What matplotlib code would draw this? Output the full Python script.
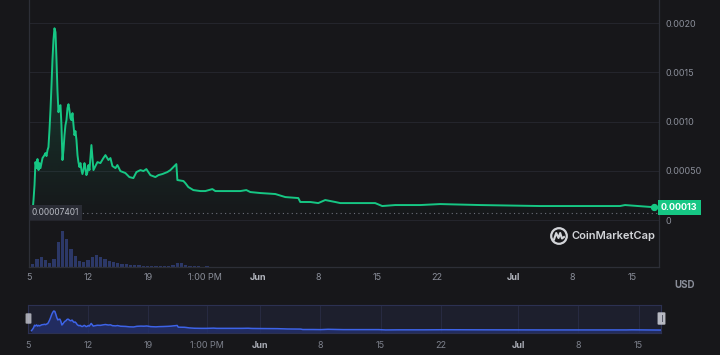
import numpy as np
import matplotlib.pyplot as plt
from matplotlib.patches import Polygon, Circle, Rectangle, FancyBboxPatch
import matplotlib.transforms as mtransforms

plt.rcParams['font.family'] = ['Inter', 'DejaVu Sans']

# x = days since May 5 (00:00)
price_day = [0.41, 0.53, 0.65, 0.76, 0.88, 1.00, 1.12, 1.24, 1.35, 1.59,
             1.82, 1.94, 2.06, 2.18, 2.29, 2.41, 2.53, 2.65, 2.76, 2.88,
             3.00, 3.12, 3.24, 3.35, 3.47, 3.59, 3.71, 3.82, 3.94, 4.06,
             4.18, 4.29, 4.41, 4.53, 4.65, 4.76, 4.88, 5.00, 5.12, 5.24,
             5.35, 5.47, 5.59, 5.71, 5.82, 5.94, 6.06, 6.18, 6.29, 6.41,
             6.53, 6.65, 6.76, 6.88, 7.00, 7.12, 7.35, 7.59, 7.82, 8.06,
             8.41, 8.76, 9.00, 9.35, 9.59, 9.82, 10.18, 10.41, 10.76, 11.35,
             11.82, 12.29, 12.65, 13.12, 13.47, 13.82, 14.29, 14.88, 15.24, 15.71,
             16.29, 16.65, 17.35, 17.47, 18.18, 18.41, 18.76, 19.35, 20.18, 20.76,
             21.59, 21.94, 23.12, 24.88, 25.59, 26.06, 27.24, 29.00, 30.18, 31.71,
             31.94, 33.12, 34.06, 34.88, 36.06, 36.65, 40.76, 41.59, 43.12, 46.06,
             48.41, 53.12, 60.18, 69.59, 70.18, 73.59]
price_usd = [0.000074, 0.000203, 0.000355, 0.000588, 0.000527, 0.000619, 0.000507, 0.000578, 0.000527, 0.000629,
             0.000659, 0.000680, 0.000649, 0.000710, 0.000740, 0.000913, 0.001116, 0.001369, 0.001623, 0.001826,
             0.001947, 0.001907, 0.001623, 0.001318, 0.001095, 0.001156, 0.001166, 0.000963, 0.000609, 0.000710,
             0.000862, 0.000963, 0.001014, 0.001136, 0.001176, 0.001116, 0.001034, 0.001014, 0.001085, 0.000963,
             0.000862, 0.000903, 0.000811, 0.000659, 0.000588, 0.000538, 0.000578, 0.000507, 0.000467, 0.000507,
             0.000578, 0.000527, 0.000456, 0.000487, 0.000558, 0.000507, 0.000761, 0.000507, 0.000548, 0.000588,
             0.000578, 0.000629, 0.000659, 0.000609, 0.000629, 0.000548, 0.000527, 0.000558, 0.000497, 0.000477,
             0.000436, 0.000426, 0.000487, 0.000507, 0.000497, 0.000517, 0.000456, 0.000436, 0.000456, 0.000467,
             0.000487, 0.000507, 0.000568, 0.000406, 0.000396, 0.000375, 0.000335, 0.000304, 0.000294, 0.000294,
             0.000314, 0.000294, 0.000294, 0.000294, 0.000304, 0.000284, 0.000274, 0.000264, 0.000233, 0.000223,
             0.000183, 0.000183, 0.000172, 0.000203, 0.000183, 0.000172, 0.000172, 0.000142, 0.000152, 0.000152,
             0.000162, 0.000152, 0.000142, 0.000142, 0.000152, 0.000130]

# volume (relative units), half-day bars for the first 20 days, daily afterwards
vol_early = [3, 8, 10, 7, 4, 8, 25, 36, 28, 18,
             11, 6, 5, 7, 10, 12, 10, 8, 6, 5,
             4, 3, 3, 2, 2, 2, 1.5, 1.5, 1.5, 1.5,
             1.5, 1.5, 1.5, 2.5, 4, 4, 2.5, 1.5, 1, 1]
vol_late = [0.6, 0.5, 0.5, 0.5, 0.5, 0.4, 0.4, 0.4, 0.4, 0.4,
            0.3, 0.3, 0.3, 0.3, 0.3, 0.3, 0.3, 0.3, 0.3, 0.3,
            0.3, 0.3, 0.3, 0.3, 0.3, 0.3, 0.3, 0.3, 0.3, 0.3,
            0.3, 0.3, 0.3, 0.3, 0.3, 0.3, 0.3, 0.3, 0.3, 0.3,
            0.3, 0.3, 0.3, 0.3, 0.3, 0.3, 0.3, 0.3, 0.3, 0.3,
            0.3, 0.3, 0.3]
vol_day_early = np.arange(0.5, 20.01, 0.5)
vol_day_late = np.arange(21, 74, 1)

tick_days = [0, 7, 14, 20.76, 27, 34, 41, 48, 57, 64, 71]
tick_labels = ['5', '12', '19', '1:00 PM', 'Jun', '8', '15', '22', 'Jul', '8', '15']
ytick_vals = [0, 0.0005, 0.001, 0.0015, 0.002]
ytick_labels = ['0', '0.00050', '0.0010', '0.0015', '0.0020']
first_price = 0.00007401
first_label = '0.00007401'
last_label = '0.00013'

bg = '#17171a'
green = '#16c784'
txt = '#8a8e99'
line_c = '#2d2f37'

fig = plt.figure(figsize=(7.2, 3.55), dpi=100, facecolor=bg)
W, H = 720, 355

# volume bars in their own axes, under the price axes
axv = fig.add_axes([29 / W, 88 / H, 630 / W, 267 / H], facecolor=bg)
axv.set_xlim(0.06, 74.18)
axv.set_ylim(0, 267)
axv.bar(vol_day_early, vol_early, width=0.4, color='#2f3c70', alpha=0.9, lw=0)
axv.bar(vol_day_late, vol_late, width=0.4, color='#2f3c70', alpha=0.9, lw=0)
axv.set_xticks([])
axv.set_yticks([])
for s in axv.spines.values():
    s.set_visible(False)

ax = fig.add_axes([29 / W, 88 / H, 630 / W, 267 / H])
ax.patch.set_visible(False)

for v in ytick_vals:
    ax.axhline(v, color='#24252c', lw=0.8, zorder=0)

# gradient fill under the price line
verts = list(zip(price_day, price_usd)) + [(price_day[-1], 0), (price_day[0], 0)]
poly = Polygon(verts, closed=True, fc='none', ec='none')
ax.add_patch(poly)
grad = np.zeros((256, 1, 4))
grad[:, 0, 0] = 22 / 255
grad[:, 0, 1] = 199 / 255
grad[:, 0, 2] = 132 / 255
grad[:, 0, 3] = np.linspace(0.0, 0.24, 256)
img = ax.imshow(grad, extent=[0, 74, 0, max(price_usd)], origin='lower',
                aspect='auto', zorder=1, interpolation='bilinear')
img.set_clip_path(poly)
ax.set_xlim(0.06, 74.18)
ax.set_ylim(-0.000477, 0.002234)

ax.plot(price_day, price_usd, color=green, lw=1.4, zorder=3, solid_joinstyle='round')
ax.scatter([price_day[-1]], [price_usd[-1]], s=18, color=green, zorder=4)

ax.axhline(first_price, color='#6c6f79', lw=0.8, ls=(0, (1, 3)), zorder=2)

blend = mtransforms.blended_transform_factory(ax.transAxes, ax.transData)
ax.text(0.004, first_price, first_label, transform=blend,
        ha='left', va='center', fontsize=6, color='#b9bcc4', zorder=6,
        bbox=dict(boxstyle='square,pad=0.35', fc='#2a2c35', ec='none'))
ax.text(1.003, price_usd[-1], last_label, transform=blend,
        ha='left', va='center', fontsize=6.5, fontweight='bold', color='white', zorder=6,
        bbox=dict(boxstyle='square,pad=0.35', fc=green, ec='none'), clip_on=False)

ax.yaxis.tick_right()
ax.set_yticks(ytick_vals)
ax.set_yticklabels(ytick_labels)
ax.set_xticks(tick_days)
ax.set_xticklabels(tick_labels)
ax.tick_params(axis='y', length=0, pad=5, labelsize=6.5, labelcolor=txt)
ax.tick_params(axis='x', length=0, pad=4, labelsize=6.5, labelcolor=txt)
for lab in ax.get_xticklabels():
    if lab.get_text() in ('Jun', 'Jul'):
        lab.set_fontweight('bold')
        lab.set_color('#b3b6be')
ax.spines['top'].set_visible(False)
for s in ['left', 'right', 'bottom']:
    ax.spines[s].set_color(line_c)
    ax.spines[s].set_linewidth(0.9)

fig.text(674 / W, 1 - 285 / H, 'USD', fontsize=7, fontweight='bold', color=txt, va='center')

# watermark
fig.text(572 / W, 1 - 236 / H, 'CoinMarketCap', fontsize=8, fontweight='semibold',
         color='#d3d5d9', va='center', ha='left')
lax = fig.add_axes([549 / W, 1 - 246 / H, 20 / W, 20 / H])
lax.set_xlim(-1, 1)
lax.set_ylim(-1, 1)
lax.axis('off')
lax.add_patch(Circle((0, 0), 0.78, fc='none', ec='#d3d5d9', lw=1.6))
lax.plot([-0.5, -0.28, -0.05, 0.12, 0.3, 0.5], [-0.35, 0.3, -0.2, 0.3, -0.25, -0.1],
         color='#d3d5d9', lw=1.5, solid_joinstyle='round')

# navigator
nav = fig.add_axes([28 / W, 22 / H, 633 / W, 28 / H], facecolor='#1d1f2d')
nav.set_xlim(0.0, 73.6)
nav.set_ylim(-0.00015, 0.00252)
for d in tick_days:
    nav.axvline(d, color='#292d45', lw=0.6, zorder=0)
nav.fill_between(price_day, price_usd, -0.00015, color='#243172', alpha=0.75, lw=0, zorder=1)
nav.plot(price_day, price_usd, color='#3d63e8', lw=1.1, zorder=2)
nav.set_yticks([])
nav.set_xticks(tick_days)
nav.set_xticklabels(tick_labels)
nav.tick_params(axis='x', length=0, pad=6, labelsize=6.5, labelcolor='#7d818c')
for lab in nav.get_xticklabels():
    if lab.get_text() in ('Jun', 'Jul'):
        lab.set_fontweight('bold')
        lab.set_color('#a9acb5')
for s in nav.spines.values():
    s.set_color('#2c3152')
    s.set_linewidth(0.8)

# navigator handles
fig.patches.append(FancyBboxPatch((27 / W, 1 - 323 / H), 3 / W, 9 / H, boxstyle='round,pad=0.002',
                                  transform=fig.transFigure, fc='#c9cbd3', ec='none', alpha=0.8))
fig.patches.append(FancyBboxPatch((659 / W, 1 - 324 / H), 5 / W, 11 / H, boxstyle='round,pad=0.002',
                                  transform=fig.transFigure, fc='#c9cbd3', ec='none', alpha=0.9))
for xx in (660.8, 662.4):
    fig.patches.append(Rectangle((xx / W, 1 - 322 / H), 0.5 / W, 7 / H, transform=fig.transFigure,
                                 fc='#555865', ec='none'))

fig.savefig('out.png', dpi=100, facecolor=bg)
